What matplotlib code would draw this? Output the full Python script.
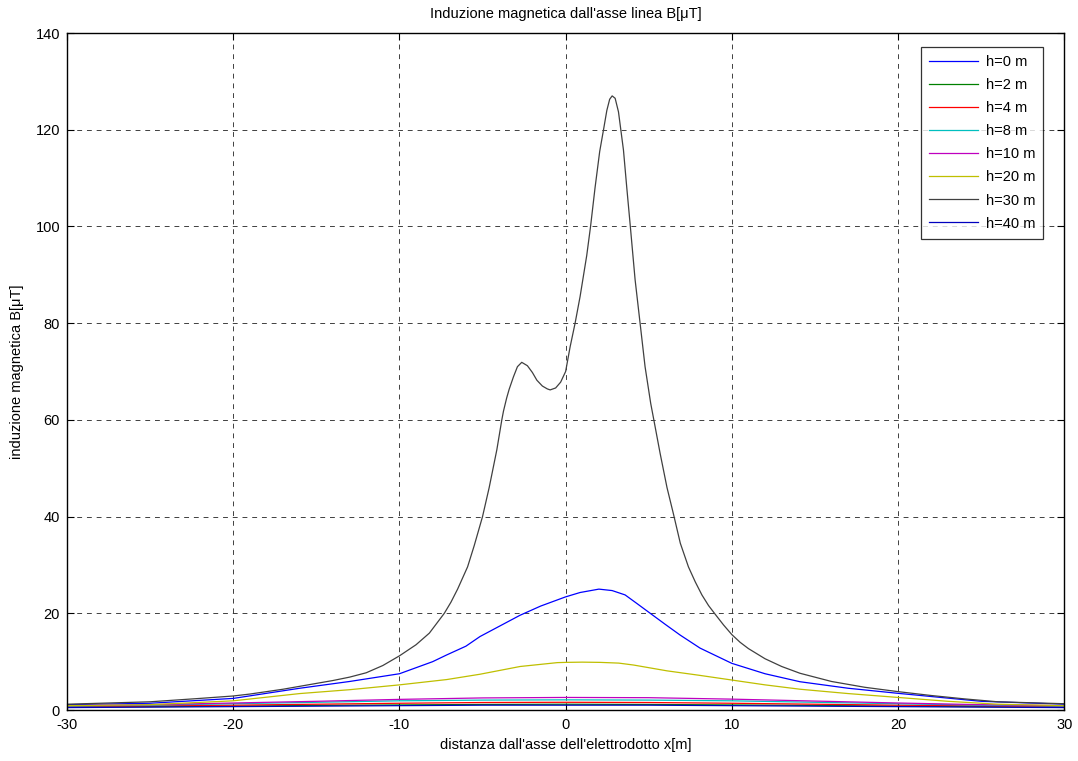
import matplotlib
matplotlib.use("Agg")
import matplotlib.pyplot as plt

plt.rcParams['font.family'] = ['Liberation Sans', 'DejaVu Sans']
plt.rcParams['axes.unicode_minus'] = False

# Field profiles B(x) in microtesla for each height
x_small = [-30, -25, -20, -15, -10, -5, 0, 5, 10, 15, 20, 25, 30]
b_h2 = [0.6, 0.7, 0.8, 0.95, 1.05, 1.15, 1.2, 1.15, 1.05, 0.95, 0.8, 0.7, 0.6]
b_h4 = [0.7, 0.85, 1.0, 1.2, 1.4, 1.55, 1.6, 1.55, 1.4, 1.2, 1.0, 0.85, 0.7]
b_h8 = [0.8, 1.0, 1.3, 1.6, 1.9, 2.05, 2.1, 2.05, 1.9, 1.6, 1.3, 1.0, 0.8]
b_h10 = [0.9, 1.1, 1.45, 1.8, 2.2, 2.5, 2.6, 2.55, 2.25, 1.85, 1.45, 1.1, 0.9]
b_h40 = [0.5, 0.6, 0.7, 0.8, 0.9, 1.0, 1.0, 1.0, 0.9, 0.8, 0.7, 0.6, 0.5]

x_h0 = [-30, -25, -20, -16, -13, -10, -8, -7.15, -6, -5.15, -4, -2.74, -1.5, 0,
        0.87, 2.0, 2.8, 3.58, 4.3, 5.09, 6.0, 6.89, 8.09, 10, 12, 14.1, 17, 20,
        25, 30]
b_h0 = [1.1, 1.4, 2.4, 4.5, 5.9, 7.5, 10.0, 11.4, 13.2, 15.2, 17.3, 19.6, 21.5,
        23.4, 24.3, 25.0, 24.7, 23.8, 22.0, 20.0, 17.7, 15.5, 12.8, 9.65, 7.5,
        5.85, 4.5, 3.45, 1.8, 1.2]

x_h20 = [-30, -25, -20, -16, -13, -10, -7.15, -5.15, -2.74, -0.5, 0, 1, 2.08,
         3.2, 4.09, 6.1, 8, 10, 12, 14.1, 17, 20, 23, 26, 30]
b_h20 = [0.9, 1.1, 1.9, 3.4, 4.2, 5.2, 6.3, 7.4, 9.0, 9.8, 9.85, 9.9, 9.85,
         9.7, 9.3, 8.1, 7.2, 6.2, 5.2, 4.3, 3.4, 2.6, 1.8, 1.2, 0.9]

x_h30 = [-30, -27, -25, -22, -20, -19, -18, -17, -16, -15, -14, -13, -12, -11,
         -10, -9, -8.2, -7.3, -6.9, -6.5, -5.9, -5.5, -5.0, -4.6, -4.14, -3.84,
         -3.74, -3.55, -3.4, -3.14, -2.9, -2.64, -2.3, -2.0, -1.73, -1.4, -1.1,
         -0.93, -0.6, -0.3, 0.0, 0.27, 0.57, 0.87, 1.27, 1.5, 1.77, 2.05, 2.28,
         2.48, 2.65, 2.8, 2.98, 3.18, 3.48, 3.68, 3.88, 4.18, 4.48, 4.78, 5.12,
         5.28, 5.69, 6.1, 6.49, 6.9, 7.39, 7.8, 8.2, 8.6, 9.0, 9.5, 10, 10.5,
         11, 12, 13, 14.1, 16, 18, 20, 22, 24, 26, 28, 30]
b_h30 = [1.2, 1.5, 1.7, 2.4, 2.9, 3.3, 3.8, 4.3, 4.9, 5.5, 6.1, 6.8, 7.7, 9.2,
         11.2, 13.5, 15.9, 20.0, 22.3, 25.0, 29.6, 34.0, 40.0, 46.0, 53.8, 60.0,
         61.8, 64.5, 66.3, 68.9, 71.0, 71.9, 71.2, 69.8, 68.2, 67.0, 66.4,
         66.2, 66.6, 67.8, 70.0, 75.1, 80.0, 85.5, 94.0, 100.0, 108.0, 115.5,
         120.0, 124.0, 126.3, 127.0, 126.5, 123.7, 115.8, 108.0, 100.5, 89.0,
         80.0, 71.0, 63.4, 60.5, 53.0, 46.0, 40.5, 34.5, 29.6, 26.5, 23.8,
         21.6, 19.8, 17.6, 15.6, 14.0, 12.7, 10.6, 9.0, 7.6, 5.9, 4.7, 3.8,
         3.0, 2.3, 1.7, 1.5, 1.3]

series = [
    ("h=0 m", x_h0, b_h0, (0.0, 0.0, 1.0)),
    ("h=2 m", x_small, b_h2, (0.0, 0.5, 0.0)),
    ("h=4 m", x_small, b_h4, (1.0, 0.0, 0.0)),
    ("h=8 m", x_small, b_h8, (0.0, 0.75, 0.75)),
    ("h=10 m", x_small, b_h10, (0.75, 0.0, 0.75)),
    ("h=20 m", x_h20, b_h20, (0.75, 0.75, 0.0)),
    ("h=30 m", x_h30, b_h30, (0.25, 0.25, 0.25)),
    ("h=40 m", x_small, b_h40, (0.0, 0.0, 0.75)),
]

fig = plt.figure(figsize=(10.78, 7.61), dpi=100)
ax = fig.add_axes([0.0622, 0.067, 0.925, 0.8896])

for label, xs, ys, col in series:
    ax.plot(xs, ys, color=col, lw=0.9, label=label)

ax.set_xlim(-30, 30)
ax.set_ylim(0, 140)
ax.set_xticks(range(-30, 31, 10))
ax.set_yticks(range(0, 141, 20))
ax.tick_params(direction='in', top=True, right=True, labelsize=10.5,
               length=5, width=0.8)
ax.tick_params(axis='x', pad=6)
ax.tick_params(axis='y', pad=5)
ax.grid(True, color='black', linestyle=(0, (5, 5)), lw=0.7, alpha=0.75)
for sp in ax.spines.values():
    sp.set_linewidth(1.0)

ax.set_title("Induzione magnetica dall'asse linea B[\u03bcT]", fontsize=10.5, pad=11)
ax.set_xlabel("distanza dall'asse dell'elettrodotto x[m]", fontsize=10.5, labelpad=4)
ax.set_ylabel("induzione magnetica B[\u03bcT]", fontsize=10.5, labelpad=8)

leg = ax.legend(loc='upper right', bbox_to_anchor=(0.979, 0.979),
                fontsize=10.5, frameon=True, fancybox=False,
                edgecolor='black', borderaxespad=0.0, handlelength=3.4,
                labelspacing=0.62, borderpad=0.55, handletextpad=0.5)
leg.get_frame().set_linewidth(0.9)
leg._legend_box.sep = 4

fig.savefig("out.png", dpi=100)
